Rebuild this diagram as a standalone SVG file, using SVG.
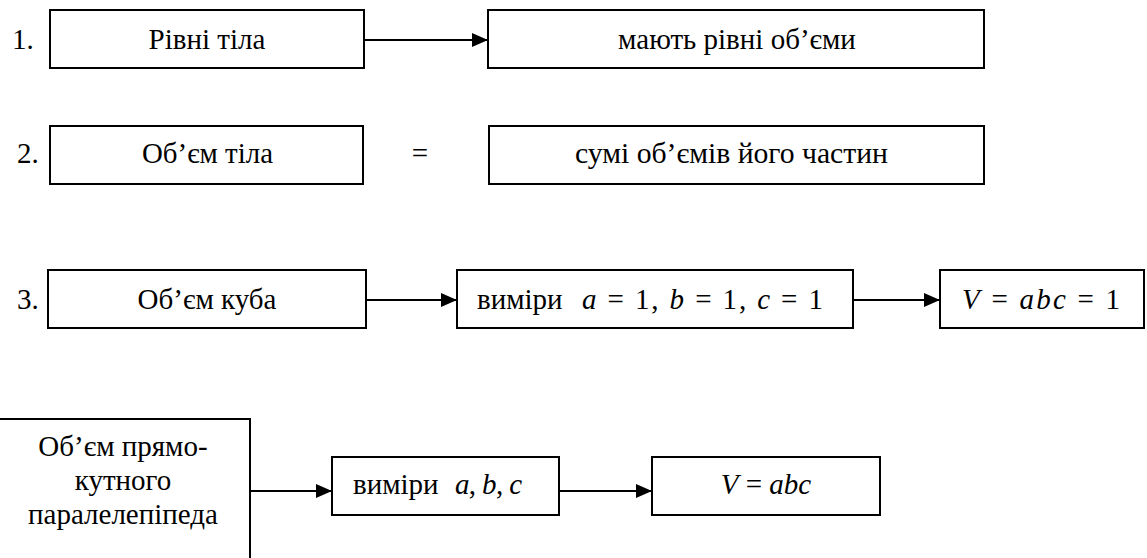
<svg xmlns="http://www.w3.org/2000/svg" width="1147" height="558" viewBox="0 0 1147 558">
<style>
.box{fill:#fff;stroke:#000;stroke-width:2}
.t{font-size:29px;fill:#000}
.i{font-style:italic}
.c{text-anchor:middle}
.ln{stroke:#000;stroke-width:2;fill:none}
</style>
<defs>
<marker id="arr" markerWidth="16" markerHeight="14" refX="16" refY="7" orient="auto" markerUnits="userSpaceOnUse">
<path d="M0,0 L16,7 L0,14 Z" fill="#000"/>
</marker>
</defs>
<rect width="1147" height="558" fill="#fff"/>
<g font-family="Liberation Serif, Tinos, Times New Roman, Times, Noto Serif, DejaVu Serif, FreeSerif, serif">
<g id="labels">
<text class="t" x="12" y="49">1.</text>
<text class="t" x="17" y="163">2.</text>
<text class="t" x="17" y="309">3.</text>
<text class="t c" x="420" y="163">=</text>
</g>
<g id="connectors">
<line class="ln" x1="364" y1="40" x2="488" y2="40" marker-end="url(#arr)"/>
<line class="ln" x1="366" y1="300" x2="457" y2="300" marker-end="url(#arr)"/>
<line class="ln" x1="853" y1="300" x2="940" y2="300" marker-end="url(#arr)"/>
<line class="ln" x1="250" y1="491" x2="332" y2="491" marker-end="url(#arr)"/>
<line class="ln" x1="559" y1="491" x2="652" y2="491" marker-end="url(#arr)"/>
</g>
<g id="n1">
<rect class="box" x="50" y="10" width="314" height="58"/>
<text class="t c" x="207" y="49">Рівні тіла</text>
</g>
<g id="n2">
<rect class="box" x="488" y="10" width="496" height="58"/>
<text class="t c" x="737" y="49">мають рівні об’єми</text>
</g>
<g id="n3">
<rect class="box" x="50" y="126" width="313" height="58"/>
<text class="t" x="142" y="163" textLength="131" lengthAdjust="spacingAndGlyphs">Об’єм тіла</text>
</g>
<g id="n4">
<rect class="box" x="489" y="126" width="495" height="58"/>
<text class="t" x="575" y="163" textLength="313" lengthAdjust="spacingAndGlyphs">сумі об’ємів його частин</text>
</g>
<g id="n5">
<rect class="box" x="48" y="270" width="318" height="58"/>
<text class="t c" x="207" y="309">Об’єм куба</text>
</g>
<g id="n6">
<rect class="box" x="457" y="270" width="396" height="58"/>
<text class="t" x="477" y="309">виміри</text>
<text class="t" x="582" y="309" textLength="241" lengthAdjust="spacing"><tspan class="i">a</tspan> = 1,  <tspan class="i">b</tspan> = 1,  <tspan class="i">c</tspan> = 1</text>
</g>
<g id="n7">
<rect class="box" x="940" y="270" width="204" height="58"/>
<text class="t" x="962" y="309" textLength="158" lengthAdjust="spacing"><tspan class="i">V</tspan> = <tspan class="i">abc</tspan> = 1</text>
</g>
<g id="n8">
<rect class="box" x="-5" y="419" width="255" height="150"/>
<text class="t c" x="123" y="456">Об’єм прямо-</text>
<text class="t c" x="123" y="490">кутного</text>
<text class="t c" x="123" y="524">паралелепіпеда</text>
</g>
<g id="n9">
<rect class="box" x="332" y="457" width="227" height="58"/>
<text class="t" x="353" y="494">виміри</text>
<text class="t" x="455" y="494" textLength="67" lengthAdjust="spacing"><tspan class="i">a</tspan>, <tspan class="i">b</tspan>, <tspan class="i">c</tspan></text>
</g>
<g id="n10">
<rect class="box" x="652" y="457" width="228" height="58"/>
<text class="t c" x="766" y="494"><tspan class="i">V</tspan> = <tspan class="i">abc</tspan></text>
</g>
</g>
</svg>
